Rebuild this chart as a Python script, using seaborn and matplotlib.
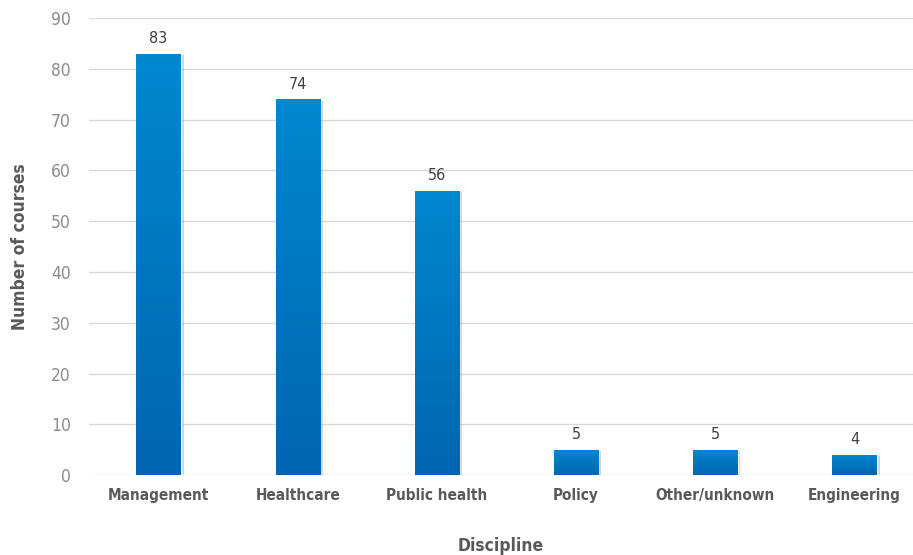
import numpy as np
import pandas as pd
import seaborn as sns
import matplotlib.pyplot as plt
import matplotlib.patheffects as pe
from matplotlib import font_manager
from matplotlib.colors import LinearSegmentedColormap

disciplines = ["Management", "Healthcare", "Public health", "Policy", "Other/unknown", "Engineering"]
courses = [83, 74, 56, 5, 5, 4]

df = pd.DataFrame({"Discipline": disciplines, "courses": courses})

sns.set_style("white")

# look for a condensed/narrow family, like the original chart's font
narrow = None
for f in font_manager.fontManager.ttflist:
    n = f.fname.lower()
    if ("narrow" in n or "condensed" in n) and "mono" not in n and "serif" not in f.name.lower():
        narrow = f.name
        break
fams = [narrow, "DejaVu Sans"] if narrow else ["DejaVu Sans"]
plt.rcParams["font.family"] = fams
plt.rcParams["font.stretch"] = "condensed"

fig = plt.figure(figsize=(9.13, 5.55), dpi=100)
ax = fig.add_axes([0.0975, 0.144, 0.9025, 0.8236])

sns.barplot(data=df, x="Discipline", y="courses", color="#0077c2", width=0.32,
            saturation=1, ax=ax, zorder=2)

# vertical gradient on every bar
cmap = LinearSegmentedColormap.from_list("blu", ["#0065b2", "#0089d0"])
grad = np.linspace(0, 1, 256).reshape(-1, 1)
for p in ax.patches:
    p.set_path_effects([pe.SimplePatchShadow(offset=(2, -1), shadow_rgbFace="#888888", alpha=0.35),
                        pe.Normal()])
    x0, w, h = p.get_x(), p.get_width(), p.get_height()
    im = ax.imshow(grad, cmap=cmap, aspect="auto", origin="lower",
                   extent=[x0, x0 + w, 0, h], zorder=3)
    im.set_clip_path(p)

for i, v in enumerate(courses):
    ax.text(i, v + 1.5, str(v), ha="center", va="bottom", fontsize=11.5, color="#404040")

ax.set_xlim(-0.5, 5.42)
ax.set_ylim(0, 90)
ax.set_yticks(range(0, 91, 10))
ax.yaxis.grid(True, color="#d9d9d9", linewidth=1)
ax.set_axisbelow(True)
sns.despine(ax=ax, left=True, bottom=True)
ax.tick_params(axis="both", length=0)
ax.tick_params(axis="y", labelsize=12.5, labelcolor="#8c8c8c", pad=13)
ax.tick_params(axis="x", labelsize=11, labelcolor="#595959", pad=9)
for t in ax.get_xticklabels():
    t.set_fontweight("bold")

ax.set_xlabel("Discipline", fontsize=12.5, fontweight="bold", color="#595959", labelpad=25)
ax.set_ylabel("Number of courses", fontsize=12.5, fontweight="bold", color="#595959", labelpad=16)

fig.savefig("out.png", dpi=100)
